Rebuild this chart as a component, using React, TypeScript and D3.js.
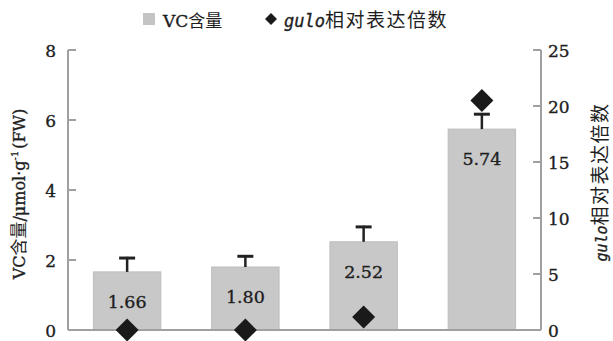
import React from "react";
import * as d3 from "d3";

const categories = ["A", "B", "C", "D"];
const vcValues = [1.66, 1.8, 2.52, 5.74];
const vcErrors = [0.43, 0.34, 0.46, 0.46];
const vcLabels = ["1.66", "1.80", "2.52", "5.74"];
const guloValues = [0, 0, 1.15, 20.5];
const leftTicks = [0, 2, 4, 6, 8];
const rightTicks = [0, 5, 10, 15, 20, 25];

export default function App() {
  const W = 613, H = 341;
  const x0 = 68, x1 = 541, yTop = 50, yBot = 330;
  const x = d3.scaleBand<string>().domain(categories).range([x0, x1]).paddingInner(0.43).paddingOuter(0.215);
  const yL = d3.scaleLinear().domain([0, 8]).range([yBot, yTop]);
  const yR = d3.scaleLinear().domain([0, 25]).range([yBot, yTop]);
  const axisColor = "#a0a0a0";
  const serif = "DejaVu Serif, serif";
  const cjk = "Noto Sans CJK SC, sans-serif";
  const mono = "DejaVu Sans Mono, monospace";
  const ink = "#1e1e1e";
  const thick = { stroke: ink, strokeWidth: 0.35 } as const;
  const diamond = (cx: number, cy: number, r: number) =>
    `M${cx},${cy - r}L${cx + r},${cy}L${cx},${cy + r}L${cx - r},${cy}Z`;
  return (
    <svg width={W} height={H} style={{ position: "absolute", left: 0, top: 0, background: "#fff" }}>
      {/* legend */}
      <rect x={143} y={13} width={12} height={12} fill="#c4c4c4" />
      <text x={163} y={27} fontSize={17} fontFamily={serif} fill={ink} {...thick}>
        VC<tspan fontFamily={cjk} fontSize={17} strokeWidth={0}>含量</tspan>
      </text>
      <path d={diamond(271, 19, 6)} fill="#1a1a1a" />
      <text x={284} y={27} fontSize={17} fill={ink} {...thick}>
        <tspan fontFamily={mono} fontStyle="italic">gulo</tspan>
        <tspan fontFamily={cjk} fontSize={19} letterSpacing={1.5} strokeWidth={0}>相对表达倍数</tspan>
      </text>

      {/* bars */}
      {categories.map((c, i) => {
        const bx = x(c)!;
        const bw = x.bandwidth();
        const cx = bx + bw / 2;
        const top = yL(vcValues[i]);
        const et = yL(vcValues[i] + vcErrors[i]);
        return (
          <g key={c}>
            <rect x={bx} y={top} width={bw} height={yBot - top} fill="#c8c8c8" stroke="#bdbdbd" strokeWidth={1} />
            <line x1={cx} x2={cx} y1={top} y2={et} stroke="#222" strokeWidth={2.5} />
            <line x1={cx - 8} x2={cx + 8} y1={et + 1.2} y2={et + 1.2} stroke="#222" strokeWidth={3} />
            <text x={cx} y={top + 36} textAnchor="middle" fontSize={17.5} fontFamily={serif} fill={ink} {...thick}>
              {vcLabels[i]}
            </text>
          </g>
        );
      })}

      {/* axes */}
      <g stroke={axisColor} strokeWidth={2} fill="none">
        <line x1={x0} x2={x0} y1={yTop} y2={yBot} />
        <line x1={x0} x2={x1} y1={yBot} y2={yBot} />
        <line x1={x1} x2={x1} y1={yTop} y2={yBot} />
        {leftTicks.map((t) => (
          <line key={"l" + t} x1={x0} x2={x0 + 8} y1={yL(t)} y2={yL(t)} />
        ))}
        {rightTicks.map((t) => (
          <line key={"r" + t} x1={x1 - 8} x2={x1} y1={yR(t)} y2={yR(t)} />
        ))}
      </g>
      {leftTicks.map((t) => (
        <text key={"lt" + t} x={56} y={yL(t) + 6.5} textAnchor="end" fontSize={17} fontFamily={serif} fill={ink} {...thick}>
          {t}
        </text>
      ))}
      {rightTicks.map((t) => (
        <text key={"rt" + t} x={548} y={yR(t) + 6.5} textAnchor="start" fontSize={17} fontFamily={serif} fill={ink} {...thick}>
          {t}
        </text>
      ))}

      {/* diamonds */}
      {categories.map((c, i) => {
        const cx = x(c)! + x.bandwidth() / 2;
        return <path key={"d" + c} d={diamond(cx, yR(guloValues[i]), 11.5)} fill="#1a1a1a" />;
      })}

      {/* axis titles */}
      <text transform="translate(25,194) rotate(-90)" textAnchor="middle" fontSize={16} fontFamily={serif} fill={ink} {...thick}>
        VC<tspan fontFamily={cjk} fontSize={17} strokeWidth={0}>含量</tspan>/μmol·g<tspan fontSize={10} dy={-7}>-1</tspan>
        <tspan dy={7} dx={2}>(FW)</tspan>
      </text>
      <text transform="translate(607,182) rotate(-90)" textAnchor="middle" fontSize={15} fill={ink} {...thick}>
        <tspan fontFamily={mono} fontStyle="italic">gulo</tspan>
        <tspan fontFamily={cjk} fontSize={19} letterSpacing={1.5} strokeWidth={0}>相对表达倍数</tspan>
      </text>
    </svg>
  );
}
